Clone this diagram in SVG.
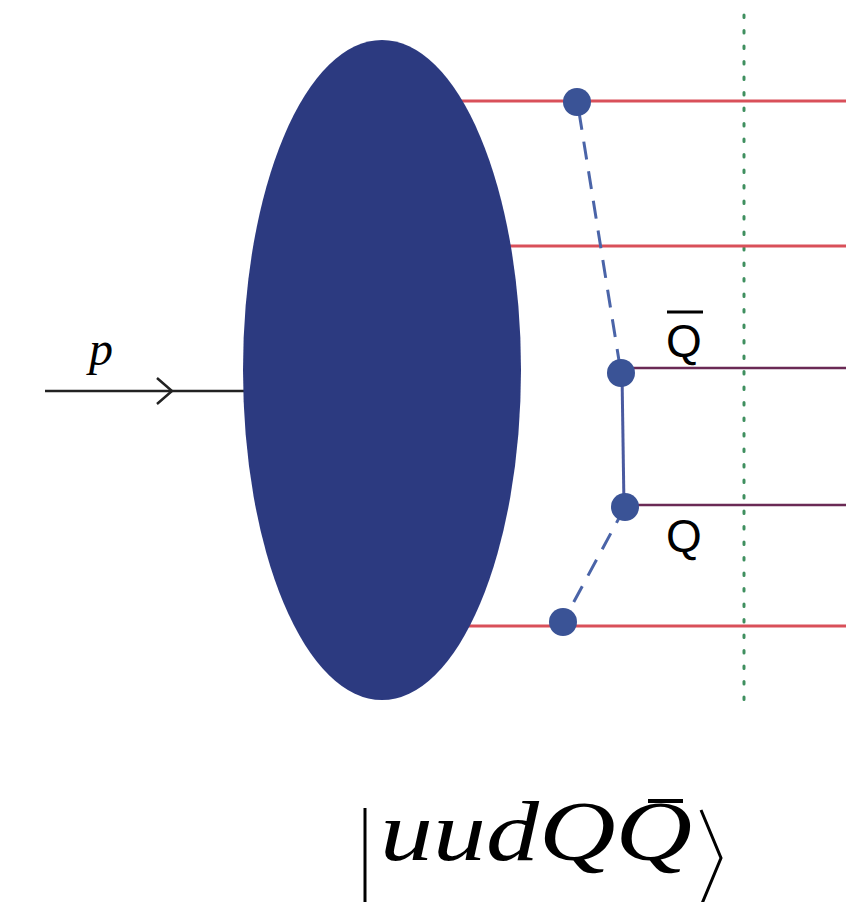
<svg xmlns="http://www.w3.org/2000/svg" width="846" height="902" viewBox="0 0 846 902">
<defs>
<style>
.red{stroke:#d9505a;stroke-width:3;fill:none}
.pur{stroke:#6a2a55;stroke-width:2.5;fill:none}
.dash{stroke:#4a64a8;stroke-width:3;fill:none;stroke-dasharray:18 12}
.dot{fill:#3a5396}
.lbl{font-family:"Liberation Sans",Arial,sans-serif;font-size:46px;fill:#000}
.math{font-family:"Liberation Serif","Times New Roman",serif;font-size:84px;fill:#000}
</style>
</defs>
<line x1="744" y1="15" x2="744" y2="700" stroke="#3f8f5f" stroke-width="3" stroke-dasharray="2.5 13" stroke-linecap="round"/>
<g id="connectors">
<line class="red" x1="440" y1="101" x2="846" y2="101"/>
<line class="red" x1="505" y1="246" x2="846" y2="246"/>
<line class="red" x1="460" y1="626" x2="846" y2="626"/>
<line class="pur" x1="622" y1="368" x2="846" y2="368"/>
<line class="pur" x1="625" y1="505" x2="846" y2="505"/>
<line x1="622" y1="373" x2="624" y2="507" stroke="#4a5aa0" stroke-width="3"/>
<line class="dash" x1="579" y1="112" x2="621" y2="373"/>
<line class="dash" x1="625" y1="507" x2="563" y2="622"/>
<line x1="45" y1="391" x2="245" y2="391" stroke="#222" stroke-width="2.5"/>
<polyline points="157,378 172,391 157,404" fill="none" stroke="#222" stroke-width="2.5"/>
</g>
<g id="proton">
<ellipse cx="382" cy="370" rx="139" ry="330" fill="#2c3a80"/>
</g>
<g id="vertices">
<circle class="dot" cx="577" cy="102" r="14"/>
<circle class="dot" cx="621" cy="373" r="14"/>
<circle class="dot" cx="625" cy="507" r="14"/>
<circle class="dot" cx="563" cy="622" r="14"/>
</g>
<g id="labels">
<text x="89" y="365" font-family="'Liberation Serif',serif" font-style="italic" font-size="48" fill="#000">p</text>
<text class="lbl" x="666" y="357">Q</text>
<line x1="667" y1="312" x2="703" y2="312" stroke="#000" stroke-width="3"/>
<text class="lbl" x="666" y="552">Q</text>
</g>
<g id="state">
<line x1="365" y1="808" x2="365" y2="902" stroke="#000" stroke-width="3"/>
<text class="math" x="380" y="860" font-style="italic" textLength="312" lengthAdjust="spacingAndGlyphs">uudQQ</text>
<line x1="648" y1="801" x2="683" y2="801" stroke="#000" stroke-width="4"/>
<polyline points="701,810 721,858 701,906" fill="none" stroke="#000" stroke-width="3"/>
</g>
</svg>
